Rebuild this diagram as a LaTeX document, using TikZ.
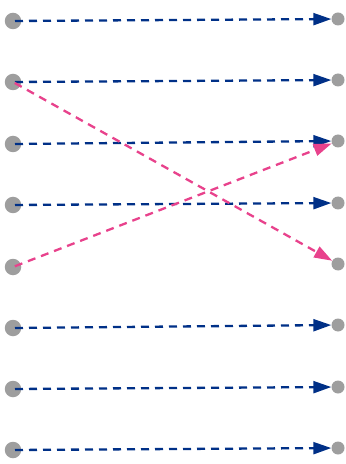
\documentclass[tikz,border=0pt]{standalone}
\usetikzlibrary{arrows.meta}
\definecolor{dotgray}{HTML}{9E9E9E}
\definecolor{navy}{HTML}{003087}
\definecolor{pinkc}{HTML}{E8428C}
\begin{document}
\begin{tikzpicture}[x=1bp,y=-1bp,
  ldot/.style={circle,fill=dotgray,draw=none,inner sep=0pt,minimum size=16.5bp},
  rdot/.style={circle,fill=dotgray,draw=none,inner sep=0pt,minimum size=13bp},
  conn/.style={line width=2.3bp,dash pattern=on 8bp off 6bp,
    -{Triangle[length=18bp,width=12bp]},shorten <=2bp},
  bluec/.style={conn,draw=navy},
  pinkl/.style={conn,draw=pinkc}]
\useasboundingbox (0,0) rectangle (345,464);
\foreach \i/\ly/\ry in {1/21/19,2/82/80,3/144/141,4/205/203,5/267/264,6/328/325,7/389/387,8/450/448}{
  \node[ldot] (l\i) at (13,\ly) {};
  \node[rdot] (r\i) at (338,\ry) {};
}
\foreach \i in {1,2,3,4,6,7,8}{
  \draw[bluec] (l\i.center) -- (r\i);
}
\draw[pinkl] (l2.center) -- (r5);
\draw[pinkl] (l5.center) -- (r3);
\end{tikzpicture}
\end{document}
